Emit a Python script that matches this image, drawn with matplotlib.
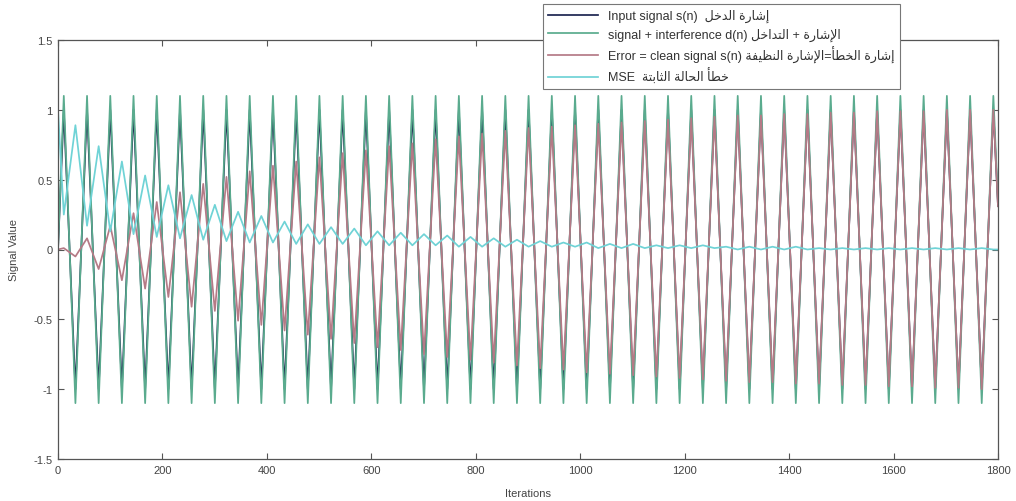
import numpy as np
import matplotlib
matplotlib.use('Agg')
import matplotlib.pyplot as plt
from matplotlib.font_manager import FontProperties

# sampling grid of the extremes (one peak + one trough per period)
period = 44.5
first_peak = 11.1
n_end = 1800

# values, at each peak / trough of the input sine
input_hi = [1.0, 1.0, 1.0, 1.0, 1.0, 1.0, 1.0, 1.0, 1.0, 1.0, 1.0, 1.0, 1.0, 1.0,
            1.0, 1.0, 1.0, 1.0, 1.0, 1.0, 1.0, 1.0, 1.0, 1.0, 1.0, 1.0, 1.0, 1.0,
            1.0, 1.0, 1.0, 1.0, 1.0, 1.0, 1.0, 1.0, 1.0, 1.0, 1.0, 1.0, 1.0]
input_lo = [-1.0, -1.0, -1.0, -1.0, -1.0, -1.0, -1.0, -1.0, -1.0, -1.0, -1.0, -1.0,
            -1.0, -1.0, -1.0, -1.0, -1.0, -1.0, -1.0, -1.0, -1.0, -1.0, -1.0, -1.0,
            -1.0, -1.0, -1.0, -1.0, -1.0, -1.0, -1.0, -1.0, -1.0, -1.0, -1.0, -1.0,
            -1.0, -1.0, -1.0, -1.0]
noisy_hi = [1.1, 1.1, 1.1, 1.1, 1.1, 1.1, 1.1, 1.1, 1.1, 1.1, 1.1, 1.1, 1.1, 1.1,
            1.1, 1.1, 1.1, 1.1, 1.1, 1.1, 1.1, 1.1, 1.1, 1.1, 1.1, 1.1, 1.1, 1.1,
            1.1, 1.1, 1.1, 1.1, 1.1, 1.1, 1.1, 1.1, 1.1, 1.1, 1.1, 1.1, 1.1]
noisy_lo = [-1.1, -1.1, -1.1, -1.1, -1.1, -1.1, -1.1, -1.1, -1.1, -1.1, -1.1, -1.1,
            -1.1, -1.1, -1.1, -1.1, -1.1, -1.1, -1.1, -1.1, -1.1, -1.1, -1.1, -1.1,
            -1.1, -1.1, -1.1, -1.1, -1.1, -1.1, -1.1, -1.1, -1.1, -1.1, -1.1, -1.1,
            -1.1, -1.1, -1.1, -1.1]
error_hi = [0.01, 0.08, 0.17, 0.26, 0.34, 0.41, 0.47, 0.52, 0.56, 0.60, 0.63, 0.66,
            0.69, 0.71, 0.74, 0.76, 0.79, 0.81, 0.83, 0.85, 0.87, 0.88, 0.89, 0.90,
            0.91, 0.92, 0.93, 0.94, 0.95, 0.96, 0.96, 0.97, 0.97, 0.98, 0.98, 0.99,
            0.99, 0.99, 1.0, 1.0, 1.0]
error_lo = [-0.05, -0.14, -0.22, -0.28, -0.34, -0.41, -0.44, -0.51, -0.54, -0.58,
            -0.61, -0.64, -0.67, -0.70, -0.72, -0.75, -0.77, -0.79, -0.81, -0.83,
            -0.85, -0.86, -0.88, -0.89, -0.90, -0.91, -0.92, -0.93, -0.94, -0.95,
            -0.95, -0.96, -0.96, -0.97, -0.97, -0.98, -0.98, -0.99, -0.99, -1.0]
# MSE: low at the signal peaks, high at the signal troughs
mse_at_hi = [0.25, 0.17, 0.13, 0.11, 0.09, 0.08, 0.07, 0.06, 0.05, 0.05, 0.04, 0.04,
             0.04, 0.03, 0.03, 0.03, 0.03, 0.02, 0.02, 0.02, 0.02, 0.02, 0.02, 0.01,
             0.01, 0.01, 0.01, 0.01, 0.01, 0.0, 0.0, 0.0, 0.0, 0.0, 0.0, 0.0,
             0.0, 0.0, 0.0, 0.0, 0.0]
mse_at_lo = [0.89, 0.74, 0.63, 0.53, 0.46, 0.39, 0.32, 0.27, 0.24, 0.20, 0.18, 0.16,
             0.15, 0.13, 0.12, 0.11, 0.10, 0.09, 0.08, 0.07, 0.06, 0.05, 0.05, 0.04,
             0.04, 0.03, 0.03, 0.03, 0.02, 0.02, 0.02, 0.02, 0.01, 0.01, 0.01, 0.01,
             0.01, 0.01, 0.01, 0.01]
# value at n=0 and n=1800
start_vals = {'input': 0.0, 'noisy': 0.0, 'error': 0.0, 'mse': 1.0}
end_vals = {'input': 0.31, 'noisy': 0.34, 'error': 0.31, 'mse': 0.0}

AR_FORMS = {
    '\u0627': ('\uFE8D', '\uFE8E', None, None),
    '\u0623': ('\uFE83', '\uFE84', None, None),
    '\u0625': ('\uFE87', '\uFE88', None, None),
    '\u0628': ('\uFE8F', '\uFE90', '\uFE91', '\uFE92'),
    '\u0629': ('\uFE93', '\uFE94', None, None),
    '\u062A': ('\uFE95', '\uFE96', '\uFE97', '\uFE98'),
    '\u062B': ('\uFE99', '\uFE9A', '\uFE9B', '\uFE9C'),
    '\u062D': ('\uFEA1', '\uFEA2', '\uFEA3', '\uFEA4'),
    '\u062E': ('\uFEA5', '\uFEA6', '\uFEA7', '\uFEA8'),
    '\u062F': ('\uFEA9', '\uFEAA', None, None),
    '\u0631': ('\uFEAD', '\uFEAE', None, None),
    '\u0634': ('\uFEB5', '\uFEB6', '\uFEB7', '\uFEB8'),
    '\u0637': ('\uFEC1', '\uFEC2', '\uFEC3', '\uFEC4'),
    '\u0638': ('\uFEC5', '\uFEC6', '\uFEC7', '\uFEC8'),
    '\u0641': ('\uFED1', '\uFED2', '\uFED3', '\uFED4'),
    '\u0642': ('\uFED5', '\uFED6', '\uFED7', '\uFED8'),
    '\u0644': ('\uFEDD', '\uFEDE', '\uFEDF', '\uFEE0'),
    '\u0646': ('\uFEE5', '\uFEE6', '\uFEE7', '\uFEE8'),
    '\u064A': ('\uFEF1', '\uFEF2', '\uFEF3', '\uFEF4'),
}
LAM_ALEF = {'\u0627': ('\uFEFB', '\uFEFC'),
            '\u0623': ('\uFEF7', '\uFEF8'),
            '\u0625': ('\uFEF9', '\uFEFA')}


def shape_ar(text):
    # crude arabic shaping + rtl reorder, matplotlib does neither
    toks = []
    i = 0
    while i < len(text):
        c = text[i]
        if c == '\u0644' and i + 1 < len(text) and text[i + 1] in LAM_ALEF:
            toks.append(('la', text[i + 1]))
            i += 2
        else:
            toks.append(('ch', c))
            i += 1

    def is_letter(t):
        return t[0] == 'la' or t[1] in AR_FORMS

    def dual(t):
        return t[0] == 'ch' and t[1] in AR_FORMS and AR_FORMS[t[1]][2] is not None

    out = []
    for k, t in enumerate(toks):
        if not is_letter(t):
            out.append(t[1])
            continue
        pj = k > 0 and dual(toks[k - 1])
        nj = dual(t) and k + 1 < len(toks) and is_letter(toks[k + 1])
        if t[0] == 'la':
            out.append(LAM_ALEF[t[1]][1 if pj else 0])
        else:
            f = AR_FORMS[t[1]]
            if pj and nj:
                out.append(f[3])
            elif pj:
                out.append(f[1])
            elif nj:
                out.append(f[2])
            else:
                out.append(f[0])
    return ''.join(reversed(out))


labels = ['Input signal s(n)  ' + shape_ar('إشارة الدخل'),
          'signal + interference d(n) ' + shape_ar('الإشارة + التداخل'),
          'Error = clean signal s(n) ' + shape_ar('إشارة الخطأ=الإشارة النظيفة'),
          'MSE  ' + shape_ar('خطأ الحالة الثابتة')]


def build(name, hi, lo):
    ys = [start_vals[name]]
    for k in range(len(hi)):
        ys.append(hi[k])
        if k < len(lo):
            ys.append(lo[k])
    ys.append(end_vals[name])
    return np.array(ys)


n_ext = len(input_hi) + len(input_lo)
xs = np.concatenate([[0], first_peak + period / 2 * np.arange(n_ext), [n_end]])

series = [('input', input_hi, input_lo, '#1c2550'),
          ('noisy', noisy_hi, noisy_lo, '#5aab8e'),
          ('error', error_hi, error_lo, '#b57a86'),
          ('mse', mse_at_hi, mse_at_lo, '#6fd3d6')]

plt.rcParams['font.family'] = ['Liberation Sans', 'DejaVu Sans']
fig = plt.figure(figsize=(10.16, 5.02), dpi=100)
ax = fig.add_axes([58 / 1016, 1 - 460 / 502, 940 / 1016, 419 / 502])

for (name, hi, lo, col), lab in zip(series, labels):
    ax.plot(xs, build(name, hi, lo), color=col, linewidth=1.25, label=lab)

ax.set_xlim(0, 1800)
ax.set_ylim(-1.5, 1.5)
ax.set_xticks(np.arange(0, 1801, 200))
ax.set_yticks([-1.5, -1, -0.5, 0, 0.5, 1, 1.5])
ax.set_yticklabels(['-1.5', '-1', '-0.5', '0', '0.5', '1', '1.5'])
ax.tick_params(direction='in', top=True, right=True, length=4, width=0.8,
               color='#555555', labelsize=8, labelcolor='#444444', pad=4)
for sp in ax.spines.values():
    sp.set_color('#555555')
    sp.set_linewidth(0.9)
ax.set_xlabel('Iterations', fontsize=8, color='#444444', labelpad=10)
ax.set_ylabel('Signal Value', fontsize=8, color='#444444', labelpad=10)

leg = fig.legend(loc='upper left', bbox_to_anchor=(543 / 1016, 1 - 5 / 502),
                 borderaxespad=0, fancybox=False, framealpha=1,
                 edgecolor='#777777', handlelength=4.0, labelspacing=0.4,
                 prop=FontProperties(family=['Liberation Sans', 'DejaVu Sans'], size=9))
leg.get_frame().set_linewidth(0.8)
for t in leg.get_texts():
    t.set_color('#333333')

fig.savefig('out.png', dpi=100)
